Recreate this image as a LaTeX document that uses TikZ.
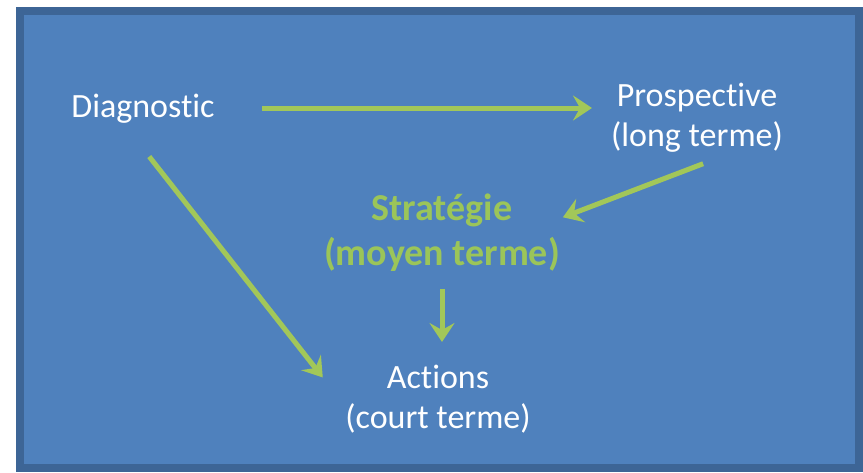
\documentclass[tikz,border=0pt]{standalone}
\usepackage{fontspec}
\setmainfont{Carlito}[Ligatures=NoCommon]
\usetikzlibrary{arrows.meta}
\definecolor{bgblue}{HTML}{4F81BD}
\definecolor{edgeblue}{HTML}{3D6596}
\definecolor{arrowgreen}{HTML}{A2C759}
\definecolor{labelgreen}{HTML}{9BC559}
\tikzset{
  lbl/.style={text=white, font=\fontsize{34}{40}\selectfont, align=center, inner sep=0pt},
  glbl/.style={text=labelgreen, font=\fontsize{38}{45}\selectfont\bfseries, align=center, inner sep=0pt},
  conn/.style={draw=arrowgreen, line width=5pt, -{Stealth[length=19pt,width=25pt,inset=7pt]}, shorten >=2pt, shorten <=2pt}
}
\begin{document}
\begin{tikzpicture}[x=1pt,y=-1pt]
\useasboundingbox (0,0) rectangle (863,472);
\begin{scope}
\clip (0,0) rectangle (863,472);
\fill[white] (0,0) rectangle (863,472);
\draw[fill=bgblue, draw=edgeblue, line width=8pt] (20,11) rectangle (859,468);
\end{scope}
\node[lbl] (diag) at (143,109) {Diagnostic};
\node[lbl] (prosp) at (697,118) {Prospective\\(long terme)};
\node[glbl] (strat) at (442,233) {Stratégie\\(moyen terme)};
\node[lbl] (act) at (438,399) {Actions\\(court terme)};
\coordinate (d1) at (260,108);
\coordinate (p1) at (594,108);
\coordinate (p2) at (705,163);
\coordinate (s1) at (561,218);
\coordinate (d2) at (148,155);
\coordinate (a1) at (324,379);
\coordinate (s2) at (442,287);
\coordinate (a2) at (442,344);
\draw[conn] (d1) -- (p1);
\draw[conn] (p2) -- (s1);
\draw[conn] (d2) -- (a1);
\draw[conn] (s2) -- (a2);
\end{tikzpicture}
\end{document}
